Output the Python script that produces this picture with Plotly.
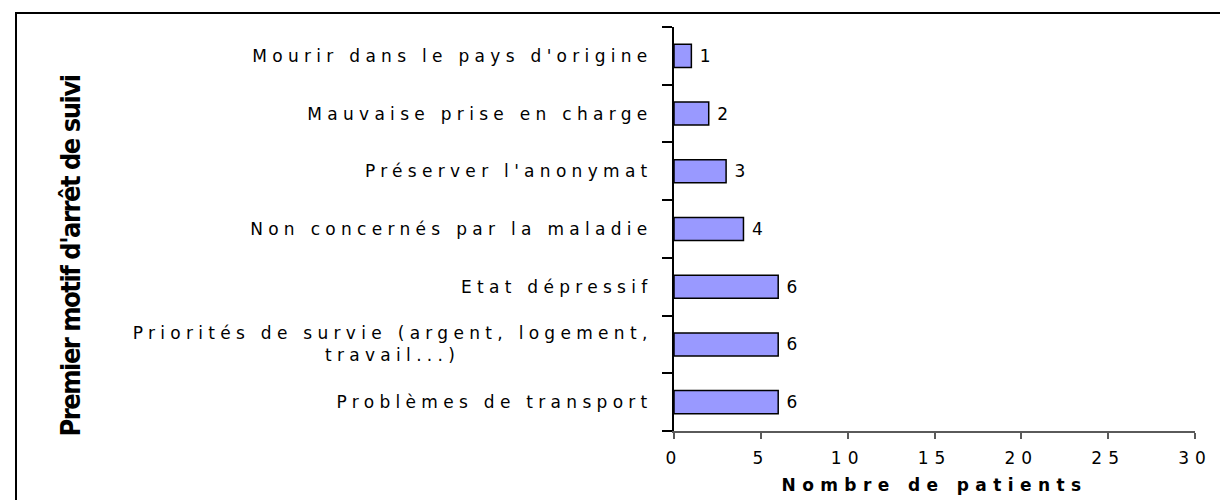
import plotly.graph_objects as go

categories = [
    "Problèmes de transport",
    "Priorités de survie (argent, logement,<br>travail...)",
    "Etat dépressif",
    "Non concernés par la maladie",
    "Préserver l'anonymat",
    "Mauvaise prise en charge",
    "Mourir dans le pays d'origine",
]
values = [6, 6, 6, 4, 3, 2, 1]
x_tick_values = [0, 5, 10, 15, 20, 25, 30]
x_title = "Nombre de patients"
y_title = "Premier motif d'arrêt de suivi"

W, H = 1228, 500
ML, MR, MT, MB = 666, 41, 19, 77
PW, PH = W - ML - MR, H - MT - MB

def px_x(p):
    return (p - ML) / PW

def px_y(p):
    return (H - MB - p) / PH

label_font = dict(family="DejaVu Sans, Liberation Sans, Arial, sans-serif", size=17, color="black")

fig = go.Figure(
    go.Bar(
        y=categories,
        x=values,
        orientation="h",
        width=0.4,
        marker=dict(color="#9999ff", line=dict(color="black", width=1.5)),
        text=values,
        texttemplate="\u00a0%{x}",
        textposition="outside",
        textfont=label_font,
        cliponaxis=False,
    )
)

fig.update_layout(
    width=W,
    height=H,
    margin=dict(l=ML, r=MR, t=MT, b=MB, pad=0),
    paper_bgcolor="white",
    plot_bgcolor="white",
    showlegend=False,
    font=label_font,
    xaxis=dict(
        range=[0, 30],
        tickvals=x_tick_values,
        ticks="outside",
        ticklen=6,
        tickwidth=2,
        tickcolor="#5a5a5a",
        showline=True,
        linecolor="#5a5a5a",
        linewidth=2,
        showgrid=False,
        zeroline=False,
        tickfont=label_font,
        ticklabelstandoff=5,
        title=dict(text="<b>" + x_title + "</b>", font=label_font, standoff=12),
        fixedrange=True,
    ),
    yaxis=dict(
        range=[-0.5, 6.5],
        ticks="outside",
        tickson="boundaries",
        ticklen=10,
        tickwidth=1.5,
        tickcolor="black",
        showline=True,
        linecolor="black",
        linewidth=2,
        showgrid=False,
        zeroline=False,
        tickfont=label_font,
        ticklabelstandoff=16,
        fixedrange=True,
    ),
    shapes=[
        dict(
            type="rect", xref="paper", yref="paper",
            x0=px_x(8), x1=px_x(1245), y0=px_y(515), y1=px_y(5),
            line=dict(color="black", width=2), fillcolor="rgba(0,0,0,0)",
            layer="below",
        )
    ],
    annotations=[
        dict(
            text="<b>" + y_title + "</b>",
            textangle=-90,
            xref="paper", yref="paper",
            x=px_x(62), y=px_y(248),
            xanchor="center", yanchor="middle",
            showarrow=False,
            font=dict(family="Liberation Sans Narrow, Arial Narrow, DejaVu Sans Condensed, sans-serif", size=27, color="black"),
        )
    ],
)

css = (
    ".ytick text{letter-spacing:5.3px}"
    ".xtick text{letter-spacing:6px}"
    ".g-xtitle text{letter-spacing:6.4px}"
    ".annotation text{letter-spacing:-1.5px}"
)
post = (
    "var st=document.createElement('style');"
    "st.textContent='" + css + "';"
    "document.head.appendChild(st);"
    "var gd=document.getElementById('{plot_id}');"
    "gd.querySelectorAll('.ytick text').forEach(function(t){"
    "  var ls=t.querySelectorAll('tspan.line');"
    "  if(ls.length>1){"
    "    var w0=ls[0].getComputedTextLength();"
    "    var x=parseFloat(ls[0].getAttribute('x'));"
    "    if(isNaN(x)){x=parseFloat(t.getAttribute('x'))||0;}"
    "    for(var i=1;i<ls.length;i++){ls[i].setAttribute('x', x-w0/2);ls[i].style.textAnchor='middle';}"
    "  }"
    "});"
)

fig.write_html("out.html", post_script=post, config={"displayModeBar": False})
